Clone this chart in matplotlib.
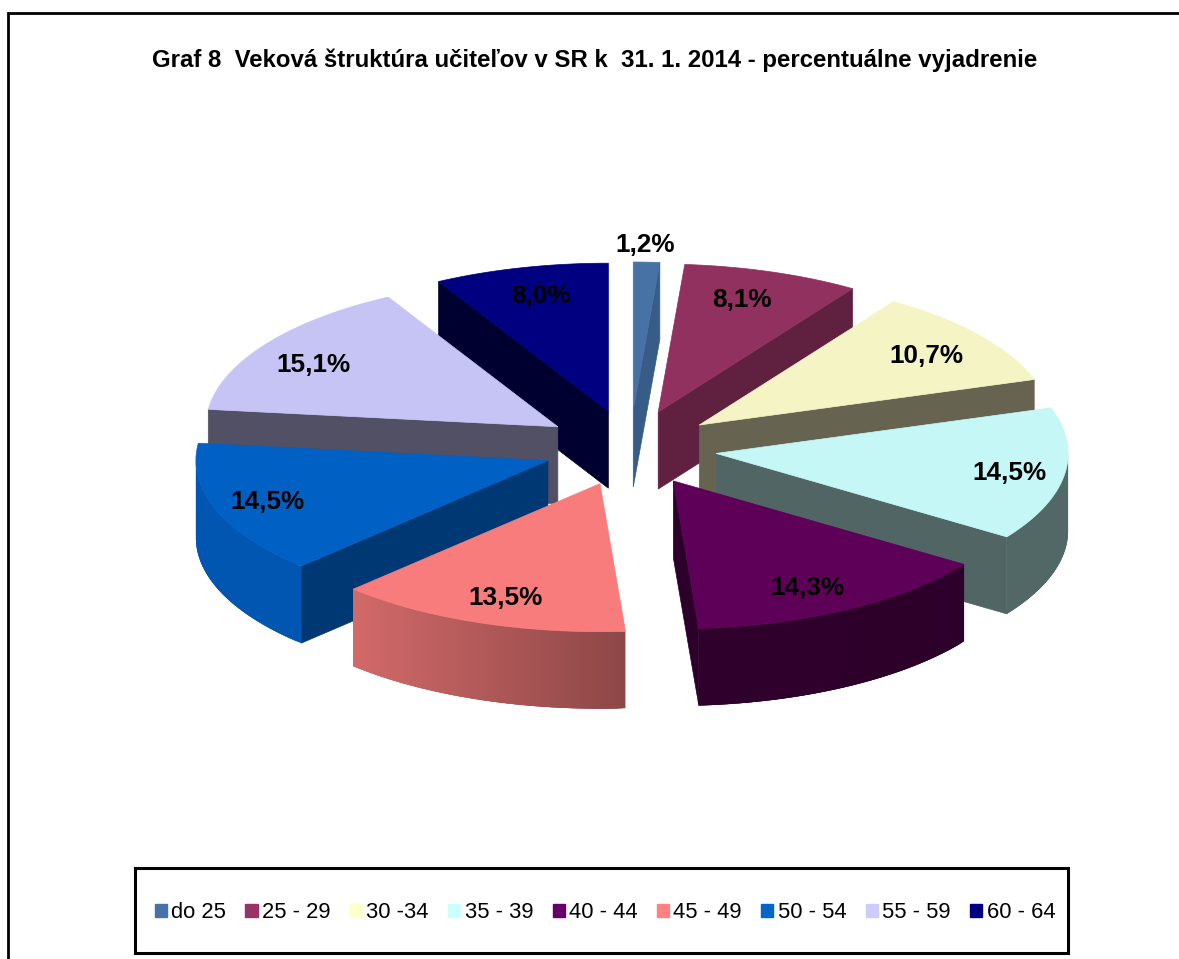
import numpy as np
import matplotlib
matplotlib.use("Agg")
import matplotlib.pyplot as plt
from matplotlib.patches import Patch, Rectangle

plt.rcParams['font.family'] = ['Liberation Sans', 'DejaVu Sans']

#data
categories = ["do 25", "25 - 29", "30 -34", "35 - 39", "40 - 44", "45 - 49", "50 - 54", "55 - 59", "60 - 64"]
values = [1.2, 8.1, 10.7, 14.5, 14.3, 13.5, 14.5, 15.1, 8.0]
title = "Graf 8  Veková štruktúra učiteľov v SR k  31. 1. 2014 - percentuálne vyjadrenie"

#colours: legend, top face, side walls, rim shade left/right
legend_colors = ["#4573a7", "#993366", "#ffffcc", "#ccffff", "#660066", "#ff8080", "#0066cc", "#ccccff", "#000080"]
top_colors = ["#4672a6", "#91315f", "#f5f4c4", "#c4f7f6", "#5e0058", "#f87c7c", "#0060c4", "#c6c4f5", "#000080"]
wall_colors = ["#365c87", "#602040", "#666450", "#516565", "#2d002b", "#8d4b4b", "#003874", "#515064", "#000030"]
rim_shade = [(.8, .8), (.65, .65), (.42, .42), (.42, .42), (.5, .47), (.85, .57), (.9, .9), (.42, .42), (.4, .4)]

#label centres in pixels
label_pos = [(645, 245), (742, 300), (926, 356), (1009, 473), (807, 588), (506, 598), (268, 502), (314, 365), (541, 296)]

#pie geometry in pixels
cx, cy = 630, 448
rx, ry = 352, 148
ex, ey = 87, 38
depth = 77

fig = plt.figure(figsize=(11.79, 9.59), dpi=100)
ax = fig.add_axes([0, 0, 1, 1])
ax.set_xlim(0, 1179)
ax.set_ylim(959, 0)
ax.axis("off")

def mix(c, f):
    r = np.array(matplotlib.colors.to_rgb(c))
    return tuple(r * f)

def draw_slice(i, a0, a1):
    mid = (a0 + a1) / 2
    ax0 = cx + ex * np.sin(mid)
    ay0 = cy - ey * np.cos(mid)
    t = np.linspace(a0, a1, 80)
    xs = ax0 + rx * np.sin(t)
    ys = ay0 - ry * np.cos(t)
    #side walls, only those facing the viewer
    if np.sin(a0) < 0:
        ax.fill([ax0, xs[0], xs[0], ax0], [ay0, ys[0], ys[0] + depth, ay0 + depth],
                color=wall_colors[i], lw=0.5)
    if np.sin(a1) > 0:
        ax.fill([ax0, xs[-1], xs[-1], ax0], [ay0, ys[-1], ys[-1] + depth, ay0 + depth],
                color=wall_colors[i], lw=0.5)
    #rim as overlapping strips so it can be shaded from left to right without seams
    front = (t >= np.pi / 2) & (t <= 3 * np.pi / 2)
    idx = np.where(front)[0]
    if len(idx) > 1:
        fl, fr = rim_shade[i]
        xmin, xmax = xs[idx].min(), xs[idx].max()
        for j in idx[:-1]:
            k = min(j + 3, idx[-1])
            xm = (xs[j] + xs[j + 1]) / 2
            f = fl + (fr - fl) * (xm - xmin) / (xmax - xmin)
            sx = xs[j:k + 1]
            sy = ys[j:k + 1]
            ax.fill(np.r_[sx, sx[::-1]], np.r_[sy, sy[::-1] + depth], color=mix(top_colors[i], f), lw=0)
    #top face
    ax.fill(np.r_[ax0, xs], np.r_[ay0, ys], color=top_colors[i], lw=0.5)

total = sum(values)
edges = np.r_[0, np.cumsum(values)] / total * 2 * np.pi
mids = (edges[:-1] + edges[1:]) / 2
#back slices first
for i in np.argsort(-np.cos(mids)):
    draw_slice(i, edges[i], edges[i + 1])

for i, v in enumerate(values):
    ax.text(label_pos[i][0], label_pos[i][1], f"{v:.1f}%".replace(".", ","),
            ha="center", va="center", fontsize=18.8, fontweight="bold", color="black")

ax.text(594.5, 60, title, ha="center", va="center", fontsize=17.3, fontweight="bold", color="black")

#outer border, cut by the picture edge
ax.plot([8, 8, 1179], [959, 12.5, 12.5], color="black", lw=2, solid_joinstyle="miter")

#legend
ax.add_patch(Rectangle((135, 868), 933, 85, fill=False, ec="black", lw=2.2))
handles = [Patch(color=c, label=n) for c, n in zip(legend_colors, categories)]
ax.legend(handles=handles, ncol=9, loc="center", bbox_to_anchor=(605, 913), bbox_transform=ax.transData,
          frameon=False, fontsize=15.84, handlelength=0.55, handleheight=0.55, handletextpad=0.2,
          columnspacing=0.88, borderpad=0, borderaxespad=0, labelcolor="black")

fig.savefig("out.png", dpi=100)
